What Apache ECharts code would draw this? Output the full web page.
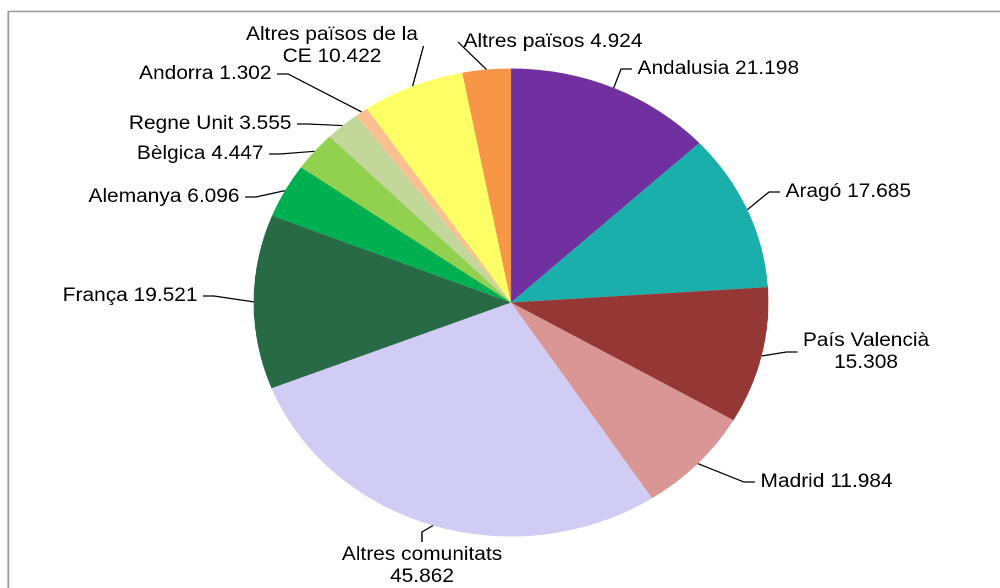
<!DOCTYPE html>
<html>
<head>
<meta charset="utf-8">
<script src="https://cdn.jsdelivr.net/npm/echarts@6/dist/echarts.min.js"></script>
<style>
html,body{margin:0;padding:0;background:#fff;overflow:hidden;}
#wrap{width:1000px;height:588px;overflow:hidden;position:relative;}
#chart{position:absolute;left:0;top:0;height:588px;transform-origin:0 0;}
</style>
</head>
<body>
<div id="wrap"><div id="chart"></div></div>
<script>
const categories = ["Andalusia", "Aragó", "País Valencià", "Madrid", "Altres comunitats", "França", "Alemanya", "Bèlgica", "Regne Unit", "Andorra", "Altres països de la CE", "Altres països"];
const values = [21198, 17685, 15308, 11984, 45862, 19521, 6096, 4447, 3555, 1302, 10422, 4924];
const colors = ["#7030A0", "#1AAFAA", "#953735", "#D99694", "#D0CCF4", "#276A45", "#00B050", "#92D050", "#C4D79B", "#FCBF8F", "#FFFF66", "#F79646"];
// where each label wraps onto a second line
const wrapAfter = {"Altres països de la CE": "Altres països de la", "País Valencià": "value", "Altres comunitats": "value"};
// label text anchor positions in page pixels: [x, y, align]
const labelPos = [
  [637, 69, 'left'], [785, 192, 'left'], [866, 352, 'center'], [760, 482, 'left'],
  [422, 566, 'center'], [198, 296, 'right'], [240, 197, 'right'], [264, 154, 'right'],
  [292, 124, 'right'], [272, 74, 'right'], [332, 46, 'center'], [463, 42, 'left']
];

const SX = 1.1; // horizontal stretch of the whole drawing (pie is an ellipse in the reference)
const PAD = 5;
const el = document.getElementById('chart');
el.style.width = (1000 / SX) + 'px';
el.style.transform = 'scaleX(' + SX + ')';

function fmt(v) {
  return String(v).replace(/\B(?=(\d{3})+(?!\d))/g, ".");
}
function labelText(name, v) {
  const w = wrapAfter[name];
  if (!w) return name + " " + fmt(v);
  if (w === "value") return name + "\n" + fmt(v);
  return w + "\n" + name.slice(w.length + 1) + " " + fmt(v);
}

const chart = echarts.init(el, null, {renderer: 'canvas', devicePixelRatio: 2});
chart.setOption({
  animation: false,
  backgroundColor: '#fff',
  graphic: [{
    type: 'rect',
    shape: {x: 8.3 / SX, y: 11.5, width: 1100, height: 700},
    style: {fill: 'none', stroke: '#999', lineWidth: 1.6},
    silent: true
  }],
  series: [{
    type: 'pie',
    center: [511 / SX, 302.5],
    radius: 234,
    startAngle: 90,
    clockwise: true,
    avoidLabelOverlap: false,
    data: categories.map((c, i) => ({name: c, value: values[i], itemStyle: {color: colors[i]}})),
    label: {
      show: true,
      position: 'outside',
      color: '#000',
      fontFamily: '"Liberation Sans", Arial, sans-serif',
      fontSize: 19,
      lineHeight: 22,
      align: 'center',
      padding: [2, PAD],
      formatter: p => labelText(p.name, p.value)
    },
    labelLine: {
      show: true,
      length: 14,
      length2: 10,
      lineStyle: {color: '#000', width: 1.2}
    },
    labelLayout: function (p) {
      const lp = labelPos[p.dataIndex];
      const dx = lp[2] === 'left' ? -PAD : (lp[2] === 'right' ? PAD : 0);
      return {x: (lp[0] + dx) / SX, y: lp[1], align: lp[2], verticalAlign: 'middle'};
    }
  }]
});
</script>
</body>
</html>
